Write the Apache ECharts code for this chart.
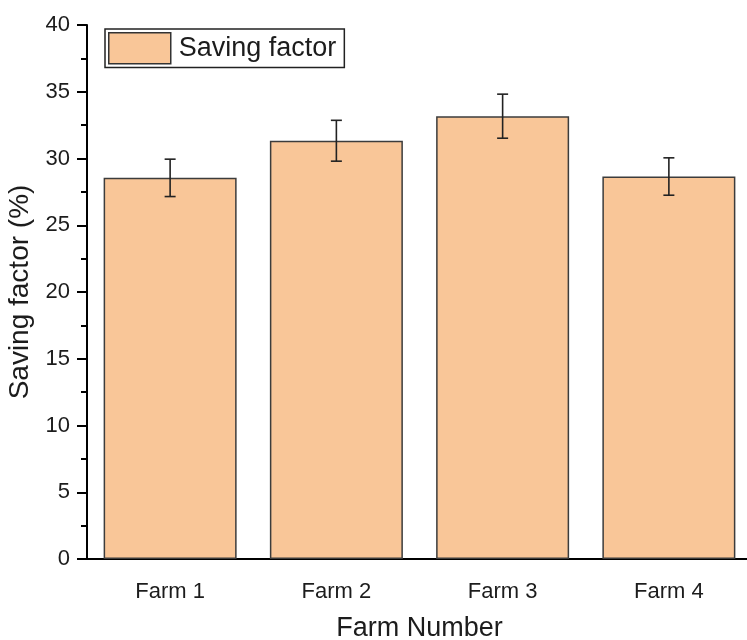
<!DOCTYPE html>
<html>
<head>
<meta charset="utf-8">
<script src="https://cdn.jsdelivr.net/npm/echarts@6/dist/echarts.min.js"></script>
<style>
  html, body { margin: 0; padding: 0; background: #fff; }
  #chart { width: 747px; height: 640px; }
</style>
</head>
<body>
<div id="chart"></div>
<script>
// Farm saving factor with standard error bars
const farms = ['Farm 1', 'Farm 2', 'Farm 3', 'Farm 4'];
const savingFactor = [28.55, 31.33, 33.17, 28.65];
const savingError = [1.4, 1.53, 1.65, 1.4];
const yTicks = [0, 5, 10, 15, 20, 25, 30, 35, 40];

const FONT = 'Liberation Sans, Arial, sans-serif';
const fill = '#F9C698';
const edge = '#3c3c3c';
const ink = '#1c1c1c';

const chart = echarts.init(document.getElementById('chart'), null, { renderer: 'canvas' });

const errData = farms.map((f, i) => [i, savingFactor[i] - savingError[i], savingFactor[i] + savingError[i]]);

chart.setOption({
  animation: false,
  backgroundColor: '#fff',
  grid: { left: 87, top: 25, width: 665, height: 534, containLabel: false, outerBoundsMode: 'none' },
  legend: {
    show: true,
    data: ['Saving factor'],
    icon: 'rect',
    left: 105,
    top: 29,
    padding: [3, 8, 3, 3],
    itemWidth: 62,
    itemHeight: 31,
    borderColor: '#222',
    borderWidth: 1.5,
    itemStyle: { borderColor: '#333', borderWidth: 1.5 },
    textStyle: { fontFamily: FONT, fontSize: 27, color: ink, padding: [0, 0, 0, 3] }
  },
  xAxis: [
    {
      type: 'category',
      data: farms,
      name: 'Farm Number',
      nameLocation: 'middle',
      nameGap: 56,
      nameTextStyle: { fontFamily: FONT, fontSize: 27, color: ink },
      axisLine: { lineStyle: { color: '#000', width: 2 } },
      axisTick: { alignWithLabel: true, length: 8, lineStyle: { color: '#000', width: 2 } },
      axisLabel: { fontFamily: FONT, fontSize: 22, color: ink, margin: 22 },
      splitLine: { show: false }
    },
    {
      // boundary ticks between categories
      type: 'category',
      data: farms,
      position: 'bottom',
      axisLine: { show: false },
      axisTick: { length: 5, lineStyle: { color: '#000', width: 2 } },
      axisLabel: { show: false },
      splitLine: { show: false }
    }
  ],
  yAxis: {
    type: 'value',
    min: 0,
    max: 40,
    interval: 5,
    name: 'Saving factor (%)',
    nameLocation: 'middle',
    nameGap: 51,
    nameTextStyle: { fontFamily: FONT, fontSize: 28, color: ink },
    axisLine: { show: true, lineStyle: { color: '#000', width: 2 } },
    axisTick: { show: true, length: 10, lineStyle: { color: '#000', width: 2 } },
    minorTick: { show: true, splitNumber: 2, length: 6, lineStyle: { color: '#000', width: 2 } },
    axisLabel: {
      fontFamily: FONT, fontSize: 22, color: ink, margin: 17,
      formatter: v => yTicks.includes(v) ? String(v) : ''
    },
    splitLine: { show: false }
  },
  series: [
    {
      name: 'Saving factor',
      type: 'bar',
      data: savingFactor,
      barCategoryGap: '20%',
      itemStyle: { color: fill, borderColor: edge, borderWidth: 1.5 }
    },
    {
      name: 'error',
      type: 'custom',
      data: errData,
      z: 5,
      renderItem: function (params, api) {
        const x = api.value(0);
        const lo = api.coord([x, api.value(1)]);
        const hi = api.coord([x, api.value(2)]);
        const half = 5.5;
        const style = { stroke: '#222', lineWidth: 1.6, fill: null };
        return {
          type: 'group',
          children: [
            { type: 'line', shape: { x1: hi[0], y1: hi[1], x2: lo[0], y2: lo[1] }, style },
            { type: 'line', shape: { x1: hi[0] - half, y1: hi[1], x2: hi[0] + half, y2: hi[1] }, style },
            { type: 'line', shape: { x1: lo[0] - half, y1: lo[1], x2: lo[0] + half, y2: lo[1] }, style }
          ]
        };
      }
    }
  ]
});
</script>
</body>
</html>
